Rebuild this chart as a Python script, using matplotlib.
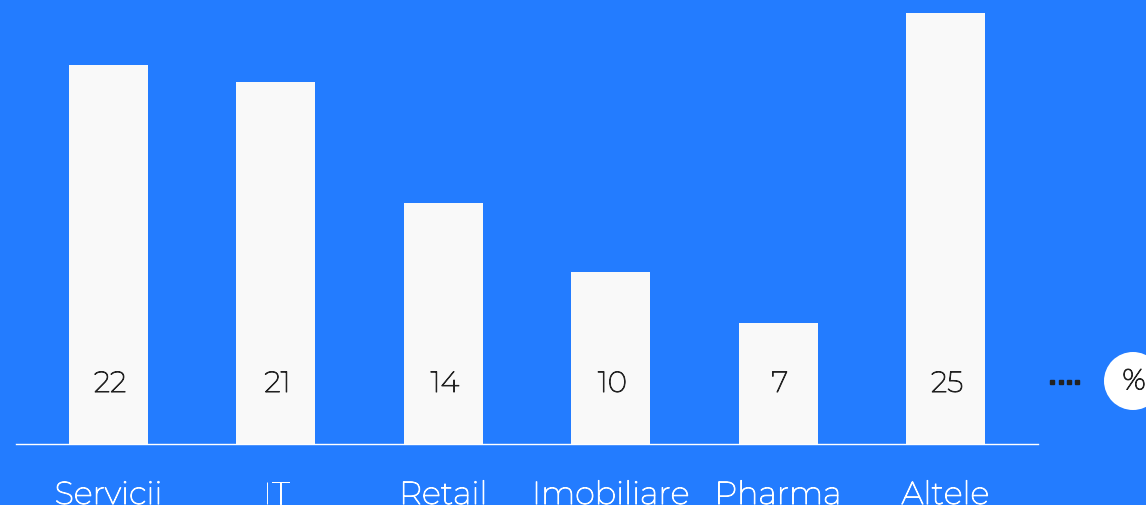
import matplotlib.pyplot as plt
import matplotlib.patheffects as pe
from matplotlib.patches import Ellipse
from matplotlib.lines import Line2D
import numpy as np

# sector shares, percent
categories = ["Servicii", "IT", "Retail", "Imobiliare", "Pharma", "Altele"]
values = [22, 21, 14, 10, 7, 25]

bg = "#237cff"
bar_col = "#f9f9f9"
dark = "#222222"

plt.rcParams['font.family'] = ['Montserrat', 'Lato', 'DejaVu Sans']

# the installed face is very thin, so give glyphs a little stroke
def thick(col):
    return [pe.withStroke(linewidth=0.7, foreground=col)]

W, H = 1146, 506
fig = plt.figure(figsize=(W/100, H/100), dpi=100, facecolor=bg)
ax = fig.add_axes([16/W, (H-445)/H, (1038-16)/W, 445/H])
ax.set_facecolor(bg)

x = np.arange(len(categories))
ax.bar(x, values, width=0.472, color=bar_col, edgecolor='none')
ax.set_xlim(-0.5526, 5.5526)
ax.set_ylim(0, 445/17.24)

for xi, v in zip(x, values):
    ax.text(xi + 0.01, 3.45, str(v), ha='center', va='center',
            fontsize=21, color=dark, path_effects=thick(dark))

ax.set_xticks(x)
ax.set_xticklabels(categories, fontsize=23, color='white')
for lab in ax.get_xticklabels():
    lab.set_path_effects(thick('white'))
ax.tick_params(axis='x', length=0, pad=26)
ax.set_yticks([])
for s in ['top', 'left', 'right']:
    ax.spines[s].set_visible(False)
ax.spines['bottom'].set_color('white')
ax.spines['bottom'].set_linewidth(1)

# unit badge on the right
dots_x = [1052/W, 1061/W, 1069/W, 1077/W]
fig.add_artist(Line2D(dots_x, [1-383/H]*4, transform=fig.transFigure, linestyle='none',
                      marker='s', markersize=3, color=dark))
fig.patches.append(Ellipse((1133/W, 1-382/H), 58/W, 58/H, transform=fig.transFigure,
                           facecolor='white', edgecolor='none'))
fig.text(1134/W, 1-383/H, "%", ha='center', va='center', fontsize=21, color=dark,
         path_effects=thick(dark))

fig.savefig("out.png", dpi=100, facecolor=bg)
